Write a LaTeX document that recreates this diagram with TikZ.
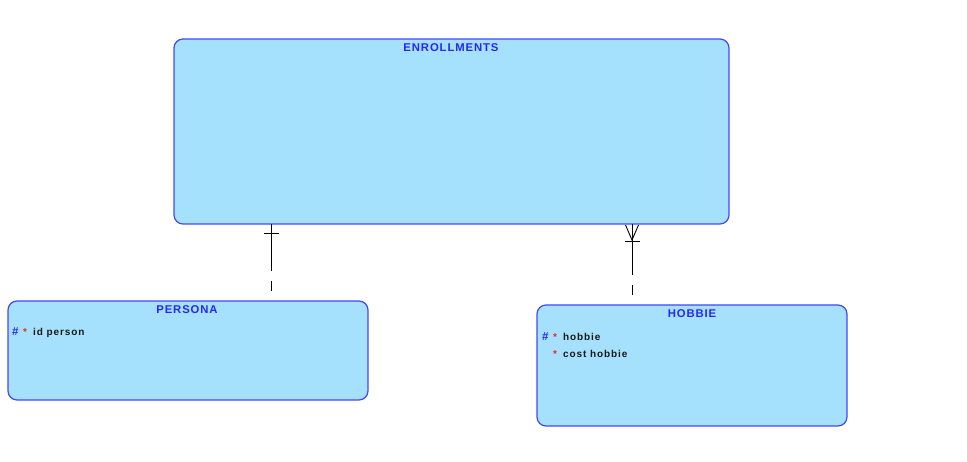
\documentclass[tikz,border=0pt]{standalone}
\usepackage{fontspec}
\setmainfont{Liberation Sans}
\usetikzlibrary{calc}
\definecolor{boxfill}{RGB}{165,224,252}
\definecolor{boxline}{RGB}{70,70,255}
\definecolor{titleblue}{RGB}{40,40,245}
\definecolor{starred}{RGB}{230,40,40}
\definecolor{attrtext}{RGB}{25,25,25}
\newcommand{\pkmark}{\makebox[11pt][l]{\fontsize{11.5}{12}\selectfont\textcolor{titleblue}{\#}}}
\newcommand{\nomark}{\makebox[11pt][l]{}}
\newcommand{\reqmark}{\makebox[10pt][l]{\textcolor{starred}{*}}}
\begin{document}
\begin{tikzpicture}[x=1pt,y=-1pt,
  entity/.style={draw=boxline,fill=boxfill,line width=1.2pt,rounded corners=9pt,anchor=north west,inner sep=0pt,outer sep=0pt},
  title/.style={font=\fontsize{11.3}{13}\selectfont\bfseries\addfontfeature{LetterSpace=8},text=titleblue,inner sep=0pt},
  attr/.style={font=\fontsize{10}{12}\selectfont\bfseries\addfontfeature{LetterSpace=9},text=attrtext,inner sep=0pt,anchor=west},
  rel/.style={line width=0.9pt,black}]
\useasboundingbox (0,0) rectangle (967,462);
% entities
\node[entity,minimum width=555pt,minimum height=185pt] (enr) at (174,39) {};
\node[entity,minimum width=360pt,minimum height=99pt] (per) at (8,301) {};
\node[entity,minimum width=310pt,minimum height=121pt] (hob) at (537,305) {};
\coordinate (enrB1) at (271,224);
\coordinate (enrB2) at (632,224);
\node[title] (enrT) at (451,47.5) {ENROLLMENTS};
\node[title] (perTitle) at (187,310) {PERSONA};
\node[title] (hobTitle) at (692,314) {HOBBIE};
% attributes
\node[attr] (pa1) at (12,333) {\pkmark\reqmark id person};
\node[attr] (ha1) at (542,337) {\pkmark\reqmark hobbie};
\node[attr] (ha2) at (542,354) {\nomark\reqmark cost hobbie};
% relationship PERSONA
\draw[rel] (enrB1) -- ++(0,47);
\draw[rel] ($(enrB1)+(0,57)$) -- ++(0,10);
\draw[rel] (264,233) -- (279,233);
% relationship HOBBIE
\draw[rel] (enrB2) -- ++(0,51);
\draw[rel] ($(enrB2)+(0,61)$) -- ++(0,10);
\draw[rel] (625,241) -- (640,241);
\draw[rel] (625.5,225) -- (632,240) -- (638.5,225);
\end{tikzpicture}
\end{document}
